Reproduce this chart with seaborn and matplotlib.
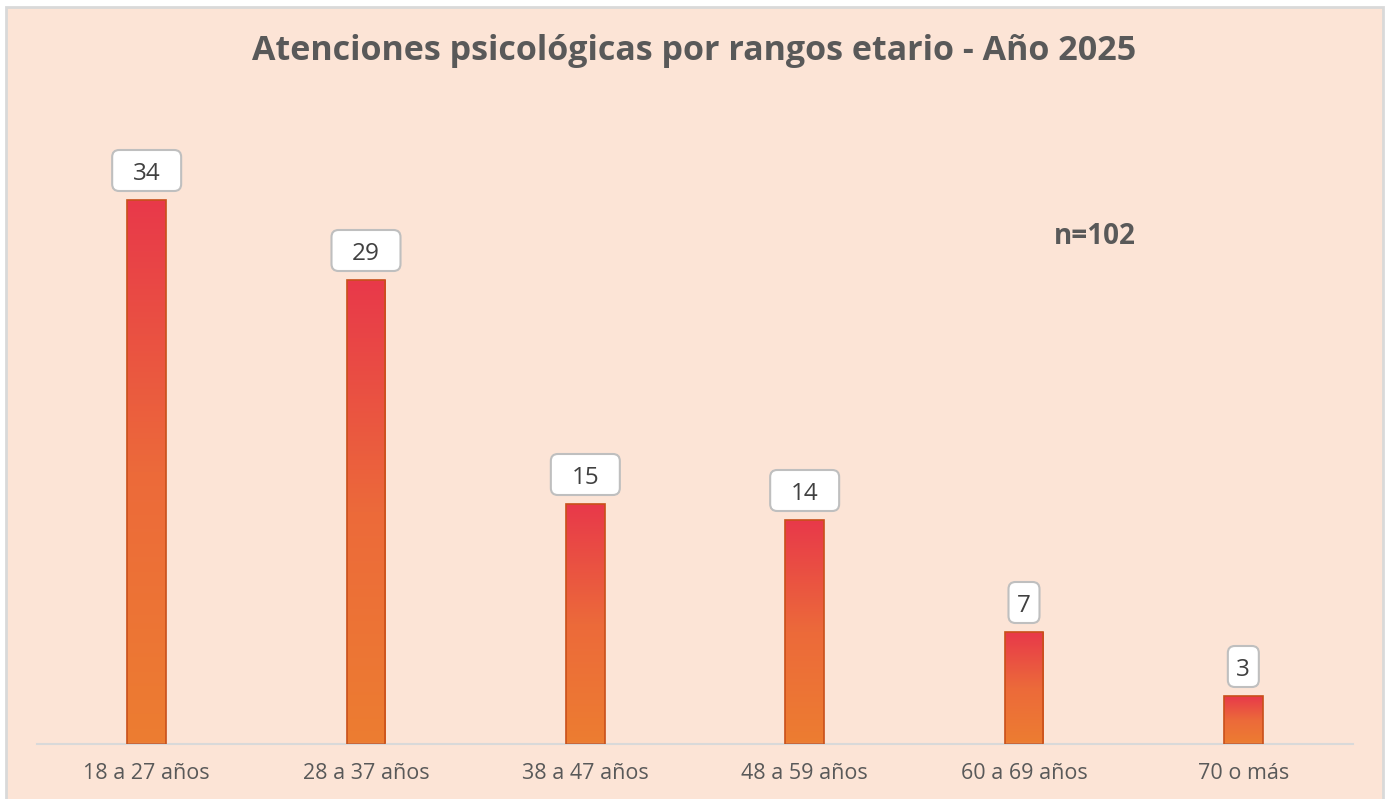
import numpy as np
import matplotlib
matplotlib.use("Agg")
import matplotlib.pyplot as plt
import seaborn as sns
from matplotlib.colors import LinearSegmentedColormap
from matplotlib.patches import Rectangle, FancyBboxPatch
from matplotlib.transforms import IdentityTransform

categorias = ["18 a 27 años", "28 a 37 años", "38 a 47 años", "48 a 59 años", "60 a 69 años", "70 o más"]
atenciones = [34, 29, 15, 14, 7, 3]
titulo = "Atenciones psicológicas por rangos etario - Año 2025"
total_n = "n=102"

sns.set_style("white")
plt.rcParams["font.family"] = ["Open Sans", "DejaVu Sans"]

fondo = "#FCE4D6"
gris_texto = "#595959"

fig = plt.figure(figsize=(13.88, 7.99), dpi=100, facecolor="white")
fig.patches.append(Rectangle((6 / 1388, -0.01), 1377 / 1388, 1 - 7 / 799 + 0.01,
                             transform=fig.transFigure, facecolor=fondo,
                             edgecolor="#D9D9D9", linewidth=2, zorder=-5))

ax = fig.add_axes([37 / 1388, 55 / 799, 1316 / 1388, 640 / 799])
ax.set_facecolor("none")
ax.set_zorder(2)

sns.barplot(x=categorias, y=atenciones, ax=ax, width=0.175, color="#ED7D31",
            edgecolor="#C8501A", linewidth=1.2)

# degradado rojo (arriba) -> naranja (abajo)
cmap = LinearSegmentedColormap.from_list("grad", ["#ED7D31", "#EC6A3A", "#E8394A"])
grad = np.linspace(0, 1, 256).reshape(-1, 1)
for barra in list(ax.patches):
    x0, y0 = barra.get_x(), barra.get_y()
    w, h = barra.get_width(), barra.get_height()
    img = ax.imshow(grad, cmap=cmap, origin="lower", aspect="auto",
                    extent=[x0, x0 + w, y0, y0 + h], zorder=2)
    img.set_clip_path(barra)
    barra.set_facecolor("none")
    barra.set_zorder(3)

ax.set_xlim(-0.5, len(categorias) - 0.5)
ax.set_ylim(0, 40)

# etiquetas en cajas redondeadas (en píxeles)
for i, v in enumerate(atenciones):
    px, py = ax.transData.transform((i, v))
    cy = py + 29.5
    bw = 38 * len(str(v)) - 7
    bh = 41
    caja = FancyBboxPatch((px - bw / 2, cy - bh / 2), bw, bh,
                          boxstyle="round,pad=0,rounding_size=7",
                          transform=IdentityTransform(), facecolor="white",
                          edgecolor="#BFBFBF", linewidth=1.5, zorder=5)
    fig.patches.append(caja)
    fig.text(px / 1388, (cy - 9) / 799, str(v), ha="center", va="baseline",
             fontsize=17.5, color="#404040", zorder=6)

fig.text(1095 / 1388, 1 - 236 / 799, total_n, ha="center", va="center",
         fontsize=20, fontweight="bold", color=gris_texto)

fig.text(694 / 1388, 1 - 51 / 799, titulo, ha="center", va="center",
         fontsize=24.5, fontweight="bold", color=gris_texto)

sns.despine(ax=ax, left=True)
ax.spines["bottom"].set_color("#D9D9D9")
ax.spines["bottom"].set_linewidth(1.5)
ax.set_yticks([])
ax.tick_params(axis="x", length=0, pad=14, labelsize=15.5, labelcolor=gris_texto)
ax.set_xlabel("")
ax.set_ylabel("")

fig.savefig("out.png", dpi=100, facecolor=fig.get_facecolor())
